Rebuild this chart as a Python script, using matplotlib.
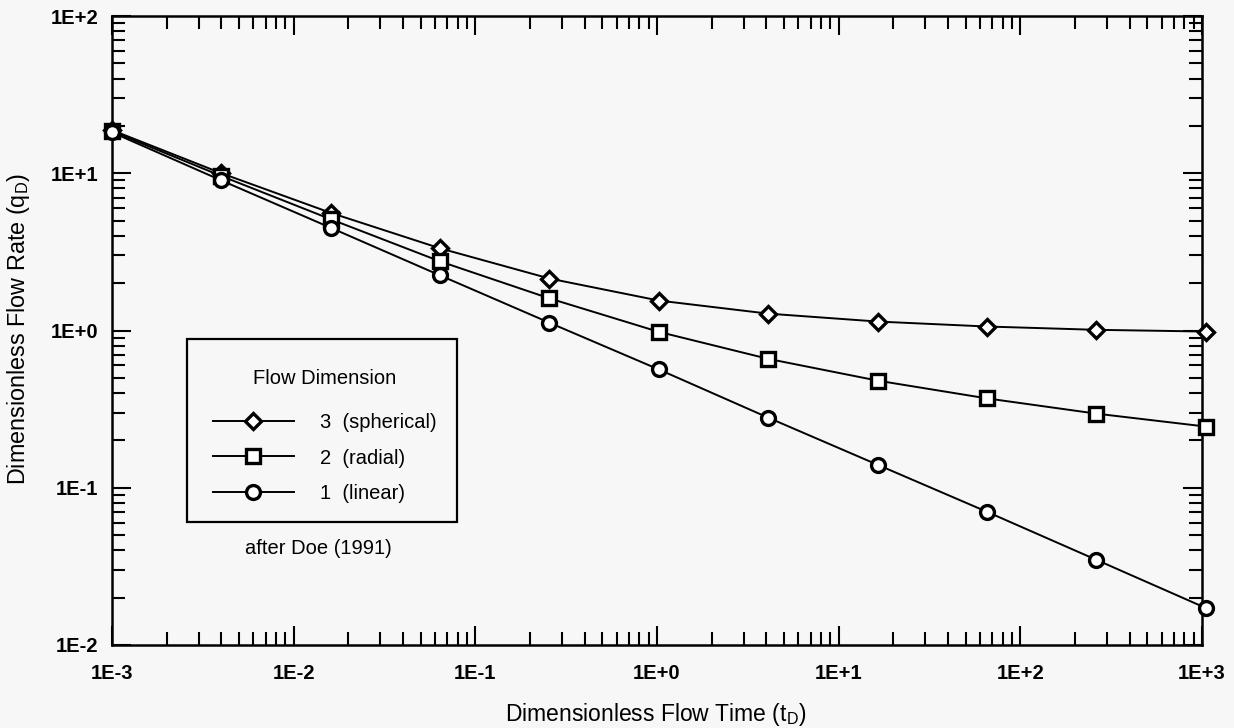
import matplotlib
matplotlib.use("Agg")
import matplotlib.pyplot as plt
from matplotlib.patches import Rectangle
from matplotlib.ticker import LogLocator, NullFormatter, FixedLocator, FixedFormatter

plt.rcParams['font.family'] = ['Liberation Sans', 'DejaVu Sans']
plt.rcParams['mathtext.fontset'] = 'custom'
plt.rcParams['mathtext.rm'] = 'Liberation Sans'

# Data
t_d = [0.001, 0.004, 0.016, 0.064, 0.256, 1.024, 4.096, 16.384, 65.536, 262.144, 1048.576]
q_spherical = [18.8, 10.0, 5.6, 3.33, 2.14, 1.55, 1.28, 1.14, 1.06, 1.01, 0.985]
q_radial = [18.5, 9.6, 5.1, 2.75, 1.6, 0.98, 0.66, 0.48, 0.37, 0.296, 0.245]
q_linear = [18.2, 9.0, 4.5, 2.24, 1.12, 0.565, 0.279, 0.14, 0.0703, 0.0348, 0.0172]
series_labels = ['3  (spherical)', '2  (radial)', '1  (linear)']
x_ticks = [1e-3, 1e-2, 1e-1, 1e0, 1e1, 1e2, 1e3]
x_ticklabels = ['1E-3', '1E-2', '1E-1', '1E+0', '1E+1', '1E+2', '1E+3']
y_ticks = [1e-2, 1e-1, 1e0, 1e1, 1e2]
y_ticklabels = ['1E-2', '1E-1', '1E+0', '1E+1', '1E+2']

bg = '#f7f7f7'
W, H = 1234, 728
fig = plt.figure(figsize=(W/100, H/100), dpi=100, facecolor=bg)
ax = fig.add_axes([112/W, 1-645/H, (1202-112)/W, (645-16)/H])
ax.set_facecolor(bg)

markers = ['D', 's', 'o']
msizes = [8, 9.5, 10]
handles = []
for q, m, ms, lab in zip([q_spherical, q_radial, q_linear], markers, msizes, series_labels):
    h, = ax.plot(t_d, q, color='black', lw=1.4, marker=m, ms=ms, mfc='white',
                 mec='black', mew=2.4, label=lab, clip_on=False, zorder=3)
    handles.append(h)

ax.set_xscale('log')
ax.set_yscale('log')
ax.set_xlim(1e-3, 1e3)
ax.set_ylim(1e-2, 1e2)

ax.xaxis.set_major_locator(FixedLocator(x_ticks))
ax.xaxis.set_major_formatter(FixedFormatter(x_ticklabels))
ax.yaxis.set_major_locator(FixedLocator(y_ticks))
ax.yaxis.set_major_formatter(FixedFormatter(y_ticklabels))
ax.xaxis.set_minor_locator(LogLocator(base=10, subs=range(2, 10), numticks=20))
ax.yaxis.set_minor_locator(LogLocator(base=10, subs=range(2, 10), numticks=20))
ax.xaxis.set_minor_formatter(NullFormatter())
ax.yaxis.set_minor_formatter(NullFormatter())

ax.tick_params(which='both', direction='in', top=True, right=True, width=1.5, color='black')
ax.tick_params(which='major', length=14)
ax.tick_params(which='minor', length=9.5)
ax.tick_params(axis='x', which='major', pad=14, labelsize=14.5)
ax.tick_params(axis='y', which='major', pad=10, labelsize=14.5)
for lbl in ax.get_xticklabels() + ax.get_yticklabels():
    lbl.set_fontweight('bold')

for s in ax.spines.values():
    s.set_linewidth(1.8)

ax.set_xlabel(r'Dimensionless Flow Time (t$_\mathregular{D}$)', fontsize=16.5, va='center')
ax.set_ylabel(r'Dimensionless Flow Rate (q$_\mathregular{D}$)', fontsize=16.8, va='center')
ax.xaxis.set_label_coords(0.499, -(715-645)/629)
ax.yaxis.set_label_coords((19-112)/1090, 1-(329-16)/629)

leg = ax.legend(handles=handles, title='Flow Dimension', loc='upper left',
                bbox_to_anchor=(213/W, 1-369/H),
                bbox_transform=fig.transFigure,
                fontsize=14.5, title_fontsize=14.5, frameon=False,
                handlelength=4.0, handletextpad=1.3, labelspacing=0.82,
                borderpad=0, borderaxespad=0)
leg._legend_box.sep = 18

fig.add_artist(Rectangle((187/W, 1-522/H), (457-187)/W, (522-339)/H,
                         transform=fig.transFigure, fill=False, lw=1.6,
                         edgecolor='black'))

fig.text(318/W, 1-549/H, 'after Doe (1991)', fontsize=14.5, ha='center', va='center')

fig.savefig('out.png', dpi=100, facecolor=bg)
